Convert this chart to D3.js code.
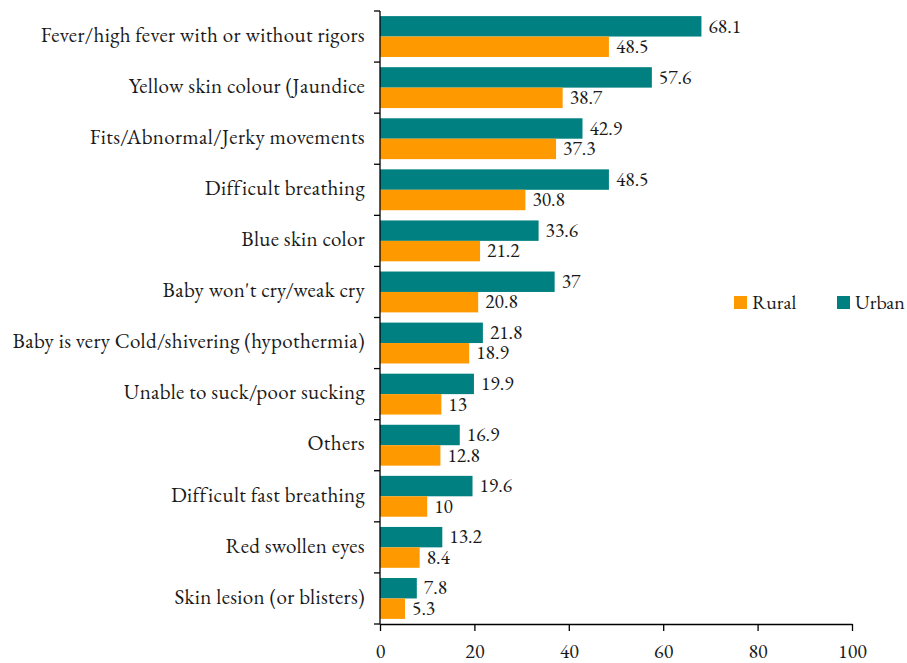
<!DOCTYPE html>
<html>
<head>
<meta charset="utf-8">
<script src="https://cdn.jsdelivr.net/npm/d3@7"></script>
<style>
  html, body { margin: 0; padding: 0; background: #fff; }
</style>
</head>
<body>
<svg id="chart" width="907" height="663"></svg>
<script>
// Danger signs reported, by place of residence (%)
const categories = [
  "Fever/high fever with or without rigors",
  "Yellow skin colour (Jaundice",
  "Fits/Abnormal/Jerky movements",
  "Difficult breathing",
  "Blue skin color",
  "Baby won't cry/weak cry",
  "Baby is very Cold/shivering (hypothermia)",
  "Unable to suck/poor sucking",
  "Others",
  "Difficult fast breathing",
  "Red swollen eyes",
  "Skin lesion (or blisters)"
];
const urbanValues = [68.1, 57.6, 42.9, 48.5, 33.6, 37, 21.8, 19.9, 16.9, 19.6, 13.2, 7.8];
const ruralValues = [48.5, 38.7, 37.3, 30.8, 21.2, 20.8, 18.9, 13, 12.8, 10, 8.4, 5.3];
const xTicks = [0, 20, 40, 60, 80, 100];
const seriesNames = ["Urban", "Rural"];
const legendOrder = ["Rural", "Urban"];

const colors = { Urban: "#008080", Rural: "#ff9900" };
const fontFamily = '"EB Garamond", "Liberation Serif", serif';
const textColor = "#1a1a1a";

const svg = d3.select("#chart");
const plot = { left: 380, right: 852, top: 11, bottom: 624 };

const x = d3.scaleLinear().domain([0, 100]).range([plot.left, plot.right]);
const y = d3.scaleBand().domain(categories).range([plot.top, plot.bottom])
  .paddingInner(0.2).paddingOuter(0.1);
const sub = d3.scaleBand().domain(seriesNames).range([0, y.bandwidth()]);

const rows = categories.map((c, i) => ({ cat: c, Urban: urbanValues[i], Rural: ruralValues[i] }));

function styleText(sel, size, spacing) {
  return sel.style("font-family", fontFamily)
    .style("font-size", size + "px")
    .style("letter-spacing", (spacing || 0) + "px")
    .style("fill", textColor);
}

// bars with value labels
const groups = svg.append("g").selectAll("g.row").data(rows).join("g")
  .attr("class", "row")
  .attr("transform", d => `translate(0,${y(d.cat)})`);

seriesNames.forEach(s => {
  groups.append("rect")
    .attr("x", x(0))
    .attr("y", sub(s))
    .attr("width", d => x(d[s]) - x(0))
    .attr("height", sub.bandwidth())
    .attr("fill", colors[s]);
  groups.append("text")
    .attr("x", d => x(d[s]) + 7)
    .attr("y", sub(s) + sub.bandwidth() / 2)
    .attr("dy", "0.32em")
    .call(styleText, 19.5)
    .text(d => d[s]);
});

// y axis: line, boundary ticks, category labels
const step = y.step();
svg.append("line")
  .attr("x1", plot.left).attr("x2", plot.left)
  .attr("y1", plot.top).attr("y2", plot.bottom)
  .attr("stroke", "#000").attr("stroke-width", 1.3);
svg.selectAll("line.ytick").data(d3.range(categories.length + 1)).join("line")
  .attr("class", "ytick")
  .attr("x1", plot.left - 6).attr("x2", plot.left)
  .attr("y1", i => plot.top + i * step).attr("y2", i => plot.top + i * step)
  .attr("stroke", "#000").attr("stroke-width", 1.3);
svg.selectAll("text.ylab").data(categories).join("text")
  .attr("class", "ylab")
  .attr("x", plot.left - 15)
  .attr("y", d => y(d) + y.bandwidth() / 2)
  .attr("dy", "0.25em")
  .attr("text-anchor", "end")
  .call(styleText, 21, 0.35)
  .text(d => d);

// x axis
const xAxis = svg.append("g")
  .attr("transform", `translate(0,${plot.bottom})`)
  .call(d3.axisBottom(x).tickValues(xTicks).tickSize(7).tickSizeOuter(0));
xAxis.select(".domain").attr("stroke", "#000").attr("stroke-width", 1.3);
xAxis.selectAll(".tick line").attr("stroke", "#000").attr("stroke-width", 1.3);
xAxis.selectAll(".tick text")
  .attr("y", 34).attr("dy", 0)
  .call(styleText, 20);

// legend
const legend = svg.append("g").attr("transform", "translate(734,296)");
const legendX = { Rural: 0, Urban: 103 };
legendOrder.forEach(s => {
  legend.append("rect").attr("x", legendX[s]).attr("y", 0)
    .attr("width", 13).attr("height", 13).attr("fill", colors[s]);
  legend.append("text").attr("x", legendX[s] + 18).attr("y", 6.5)
    .attr("dy", "0.32em").call(styleText, 20).text(s);
});
</script>
</body>
</html>
